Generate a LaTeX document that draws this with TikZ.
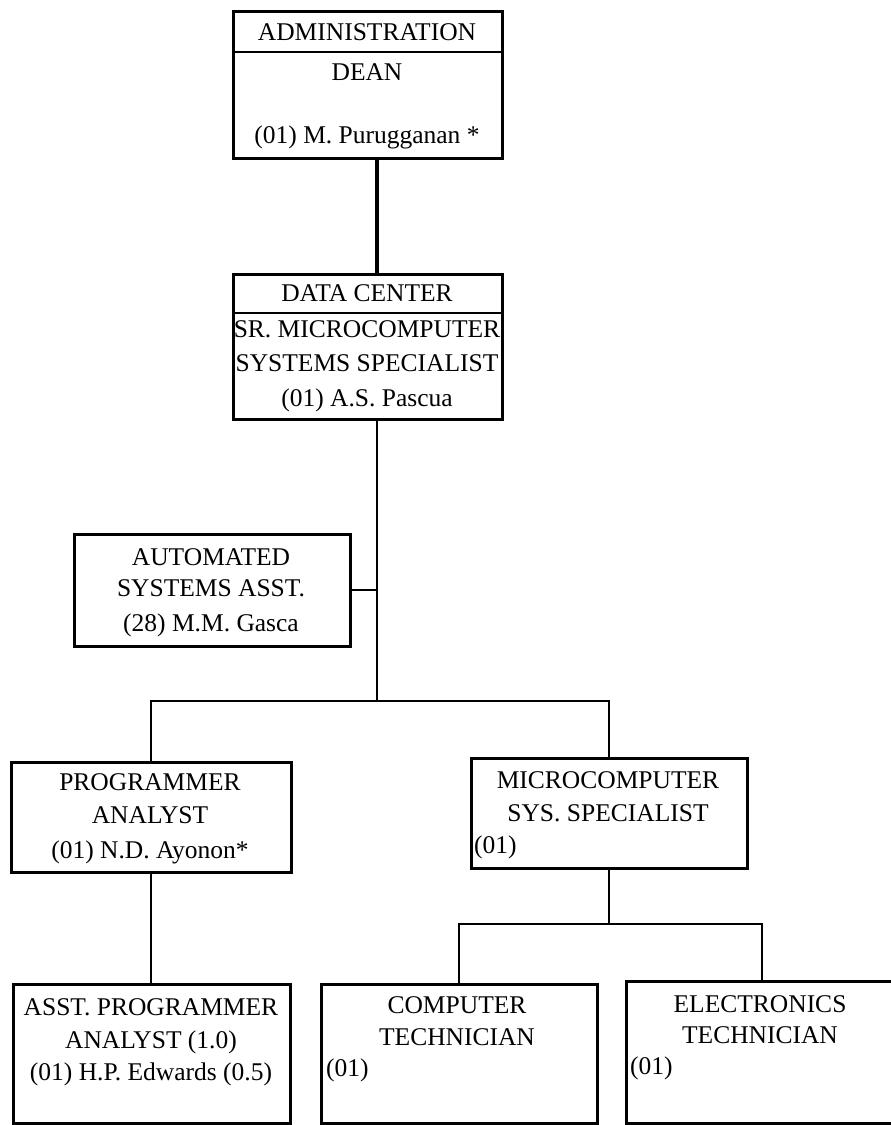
\documentclass[tikz,border=0pt]{standalone}
\usepackage{fontspec}
\setmainfont{Liberation Serif}
\begin{document}
\begin{tikzpicture}[x=1pt,y=-1pt,
  box/.style={draw, line width=2.6pt, inner sep=0pt, anchor=north west},
  txt/.style={anchor=base, inner sep=0pt, font=\fontsize{25.5}{30}\selectfont},
  ltxt/.style={anchor=base west, inner sep=0pt, font=\fontsize{25.5}{30}\selectfont},
  conn/.style={line width=2pt},
  thickconn/.style={line width=4pt},
  divider/.style={line width=2pt}]
\useasboundingbox (0,0) rectangle (891,1125);

% boxes
\node[box, minimum width=269pt, minimum height=147pt] (admin) at (232,10) {};
\node[box, minimum width=269pt, minimum height=145pt] (dc) at (232,273) {};
\node[box, minimum width=276pt, minimum height=112pt] (auto) at (73,533) {};
\node[box, minimum width=280pt, minimum height=110pt] (prog) at (10,761) {};
\node[box, minimum width=276pt, minimum height=110pt] (micro) at (470,757) {};
\node[box, minimum width=277pt, minimum height=139pt] (asst) at (12,983) {};
\node[box, minimum width=276pt, minimum height=139pt] (comp) at (320,983) {};
\node[box, minimum width=272pt, minimum height=142pt] (elec) at (625,980) {};

% dividers
\draw[divider] ([yshift=-42pt]admin.north west) -- ([yshift=-42pt]admin.north east);
\draw[divider] ([yshift=-40pt]dc.north west) -- ([yshift=-40pt]dc.north east);

% connector coordinates
\coordinate (spine) at (377,0);
\coordinate (bar1) at (377,701);
\coordinate (bar2) at (608,924);

\draw[thickconn] (admin.south -| spine) -- (dc.north -| spine);
\draw[conn] (dc.south -| spine) -- (bar1);
\draw[conn] (auto.east) -- (auto.east -| spine);
\draw[conn] (prog.north) |- (bar1) -| (micro.north);
\draw[conn] (prog.south) -- (prog.south |- asst.north);
\draw[conn] (micro.south) -- (micro.south |- bar2);
\draw[conn] (comp.north) |- (bar2) -| (elec.north);

% texts
\node[txt] (a1) at (367,40) {ADMINISTRATION};
\node[txt] (a2) at (367,80) {DEAN};
\node[txt] (a3) at (367,143) {(01) M. Purugganan *};

\node[txt] (d1) at (367,301) {DATA CENTER};
\node[txt] (d2) at (367,337) {SR. MICROCOMPUTER};
\node[txt] (d3) at (367,371) {SYSTEMS SPECIALIST};
\node[txt] (d4) at (367,406) {(01) A.S. Pascua};

\node[txt] (u1) at (211,565) {AUTOMATED};
\node[txt] (u2) at (211,596) {SYSTEMS ASST.};
\node[txt] (u3) at (211,631) {(28) M.M. Gasca};

\node[txt] (p1) at (150,790) {PROGRAMMER};
\node[txt] (p2) at (150,823) {ANALYST};
\node[txt] (p3) at (150,858) {(01) N.D. Ayonon*};

\node[txt] (m1) at (608,788) {MICROCOMPUTER};
\node[txt] (m2) at (608,821) {SYS. SPECIALIST};
\node[ltxt] (m3) at (474,853) {(01)};

\node[txt] (s1) at (151,1015) {ASST. PROGRAMMER};
\node[txt] (s2) at (151,1048) {ANALYST (1.0)};
\node[txt] (s3) at (151,1080) {(01) H.P. Edwards (0.5)};

\node[txt] (c1) at (457,1013) {COMPUTER};
\node[txt] (c2) at (457,1045) {TECHNICIAN};
\node[ltxt] (c3) at (326,1076) {(01)};

\node[txt] (e1) at (760,1012) {ELECTRONICS};
\node[txt] (e2) at (760,1043) {TECHNICIAN};
\node[ltxt] (e3) at (630,1074) {(01)};
\end{tikzpicture}
\end{document}
